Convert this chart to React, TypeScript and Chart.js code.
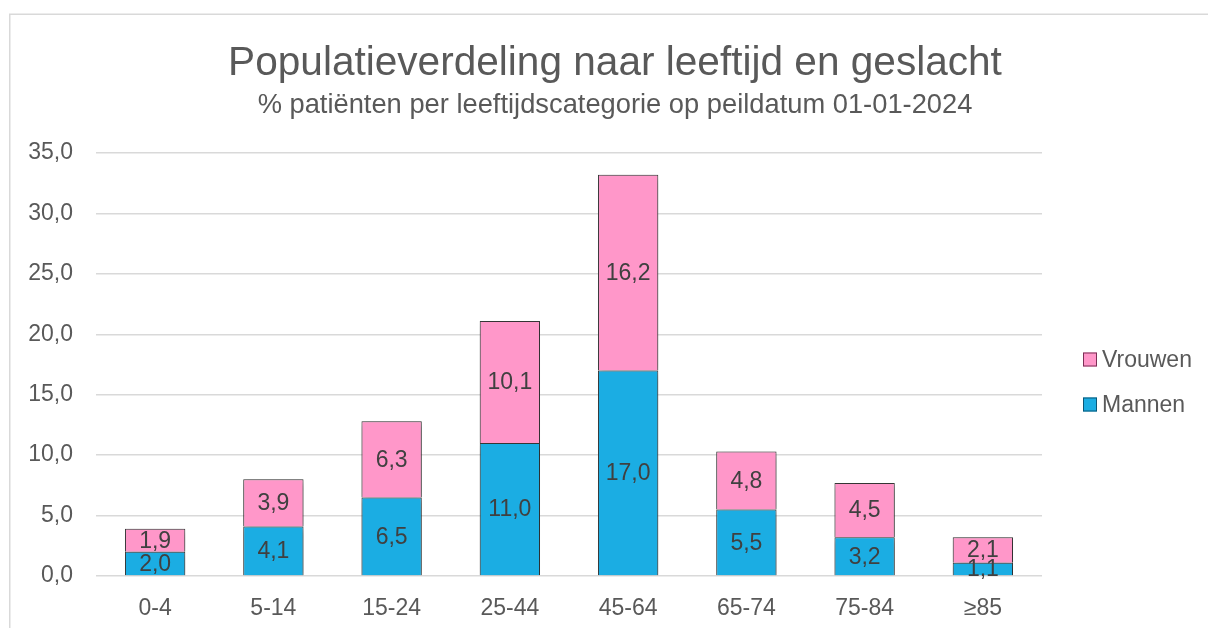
import React, { useEffect, useRef } from "react";
import { Chart, registerables } from "chart.js";

Chart.register(...registerables);

const categories = ["0-4", "5-14", "15-24", "25-44", "45-64", "65-74", "75-84", "≥85"];
const mannen = [2.0, 4.1, 6.5, 11.0, 17.0, 5.5, 3.2, 1.1];
const vrouwen = [1.9, 3.9, 6.3, 10.1, 16.2, 4.8, 4.5, 2.1];
const titleText = "Populatieverdeling naar leeftijd en geslacht";
const subtitleText = "% patiënten per leeftijdscategorie op peildatum 01-01-2024";

const FONT = "'Liberation Sans', Arial, sans-serif";
const TEXT = "#595959";
const PINK = "#FF97C9";
const BLUE = "#1BADE3";

const fmt = (v: number) => v.toFixed(1).replace(".", ",");

const framePlugin = {
  id: "frame",
  beforeDraw(chart: any) {
    const ctx = chart.ctx;
    ctx.save();
    ctx.fillStyle = "#ffffff";
    ctx.fillRect(0, 0, chart.width, chart.height);
    ctx.strokeStyle = "#d9d9d9";
    ctx.lineWidth = 1.5;
    ctx.beginPath();
    ctx.moveTo(9.75, chart.height + 2);
    ctx.lineTo(9.75, 14.25);
    ctx.lineTo(chart.width + 2, 14.25);
    ctx.stroke();
    ctx.restore();
  },
  afterDraw(chart: any) {
    const ctx = chart.ctx;
    ctx.save();
    ctx.fillStyle = TEXT;
    ctx.textAlign = "center";
    ctx.textBaseline = "alphabetic";
    ctx.font = `40.6px ${FONT}`;
    ctx.fillText(titleText, 615, 75);
    ctx.font = `27.3px ${FONT}`;
    ctx.fillText(subtitleText, 615, 113);
    ctx.restore();
  },
};

const shadowPlugin = {
  id: "barShadow",
  beforeDatasetsDraw(chart: any) {
    const ctx = chart.ctx;
    ctx.save();
    ctx.shadowColor = "rgba(0,0,0,0.4)";
    ctx.shadowBlur = 7;
    ctx.shadowOffsetX = 1;
    ctx.shadowOffsetY = 2;
  },
  afterDatasetsDraw(chart: any) {
    chart.ctx.restore();
  },
};

const labelsPlugin = {
  id: "segLabels",
  afterDatasetsDraw(chart: any) {
    const ctx = chart.ctx;
    ctx.save();
    ctx.fillStyle = "#404040";
    ctx.font = `23px ${FONT}`;
    ctx.textAlign = "center";
    ctx.textBaseline = "middle";
    chart.data.datasets.forEach((ds: any, di: number) => {
      const meta = chart.getDatasetMeta(di);
      meta.data.forEach((el: any, i: number) => {
        const { x, y, base } = el.getProps(["x", "y", "base"], true);
        ctx.fillText(fmt(ds.data[i]), x, (y + base) / 2 + 1);
      });
    });
    ctx.restore();
  },
};

const legendPlugin = {
  id: "customLegend",
  afterDraw(chart: any) {
    const ctx = chart.ctx;
    const items = chart.data.datasets.slice().reverse();
    ctx.save();
    ctx.font = `23px ${FONT}`;
    ctx.textBaseline = "middle";
    ctx.textAlign = "left";
    items.forEach((ds: any, i: number) => {
      const cy = 359.5 + i * 45;
      ctx.fillStyle = ds.backgroundColor;
      ctx.fillRect(1083, cy - 7, 14, 14);
      ctx.strokeStyle = ds.legendBorder;
      ctx.lineWidth = 1;
      ctx.strokeRect(1083.5, cy - 6.5, 13, 13);
      ctx.fillStyle = TEXT;
      ctx.fillText(ds.label, 1102, cy + 1);
    });
    ctx.restore();
  },
};

export default function App() {
  const ref = useRef<HTMLCanvasElement>(null);
  useEffect(() => {
    if (!ref.current) return;
    const chart = new Chart(ref.current, {
      type: "bar",
      data: {
        labels: categories,
        datasets: [
          {
            label: "Mannen",
            data: mannen,
            backgroundColor: BLUE,
            borderColor: "#3a3a3a",
            borderWidth: 1,
            legendBorder: "#0b5676",
          } as any,
          {
            label: "Vrouwen",
            data: vrouwen,
            backgroundColor: PINK,
            borderColor: "#3a3a3a",
            borderWidth: 1,
            legendBorder: "#7a2f55",
          } as any,
        ],
      },
      options: {
        responsive: false,
        animation: false,
        layout: { padding: { top: 153, right: 166, left: 0, bottom: 0 } },
        datasets: { bar: { categoryPercentage: 1, barPercentage: 0.51 } },
        plugins: {
          legend: { display: false },
          title: { display: false },
          tooltip: { enabled: false },
        },
        scales: {
          x: {
            stacked: true,
            grid: { display: false, drawTicks: false },
            border: { display: false },
            ticks: { color: TEXT, font: { family: FONT, size: 23 }, padding: 19 },
            afterFit: (s: any) => {
              s.height = 52;
            },
          },
          y: {
            stacked: true,
            min: 0,
            max: 35,
            grid: { color: "#d9d9d9", lineWidth: 1.5, drawTicks: false },
            border: { display: false },
            ticks: {
              stepSize: 5,
              color: TEXT,
              font: { family: FONT, size: 23 },
              padding: 23,
              callback: (v: any) => fmt(Number(v)),
            },
            afterFit: (s: any) => {
              s.width = 96;
            },
          },
        },
      },
      plugins: [framePlugin, shadowPlugin, labelsPlugin, legendPlugin],
    });
    return () => chart.destroy();
  }, []);
  return (
    <canvas
      ref={ref}
      width={1208}
      height={628}
      style={{ position: "absolute", left: 0, top: 0, width: 1208, height: 628 }}
    />
  );
}
